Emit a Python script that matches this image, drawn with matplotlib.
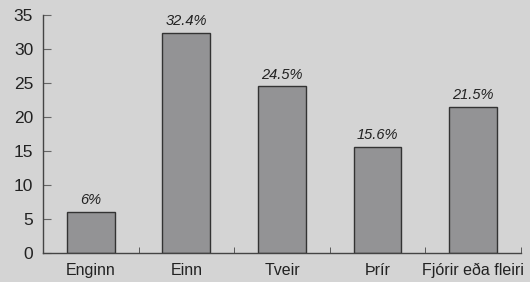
import matplotlib
matplotlib.use("Agg")
import matplotlib.pyplot as plt
import numpy as np

categories = ["Enginn", "Einn", "Tveir", "Þrír", "Fjórir eða fleiri"]
values = [6, 32.4, 24.5, 15.6, 21.5]
labels = ["6%", "32.4%", "24.5%", "15.6%", "21.5%"]
yticks = [0, 5, 10, 15, 20, 25, 30, 35]

plt.rcParams['font.family'] = ['Liberation Sans', 'DejaVu Sans']
bg = "#d4d4d4"
fig = plt.figure(figsize=(5.3, 2.82), dpi=100, facecolor=bg)
ax = fig.add_axes([0.081, 0.103, 0.902, 0.844], facecolor=bg)

x = np.arange(len(categories))
ax.bar(x, values, width=0.5, color="#939395", edgecolor="#333333", linewidth=1.0)
for xi, v, l in zip(x, values, labels):
    ax.text(xi, v + 0.7, l, ha="center", va="bottom", fontsize=10.5, style="italic", color="#222222")

ax.set_xlim(-0.5, len(categories) - 0.5)
ax.set_ylim(0, 35)
ax.set_yticks(yticks)
ax.set_xticks(x)
ax.set_xticklabels(categories)
ax.set_xticks(np.arange(-0.5, len(categories)), minor=True)
ax.tick_params(axis="x", which="major", length=0, labelsize=11.5, pad=7, labelcolor="#222222")
ax.tick_params(axis="x", which="minor", direction="in", length=4, color="#444444")
ax.tick_params(axis="y", direction="in", length=6, color="#666666", labelsize=12.5, pad=7, labelcolor="#222222")
for s in ["top", "right"]:
    ax.spines[s].set_visible(False)
for s in ["left", "bottom"]:
    ax.spines[s].set_color("#444444")
    ax.spines[s].set_linewidth(1.0)

fig.savefig("out.png", dpi=100, facecolor=bg)
